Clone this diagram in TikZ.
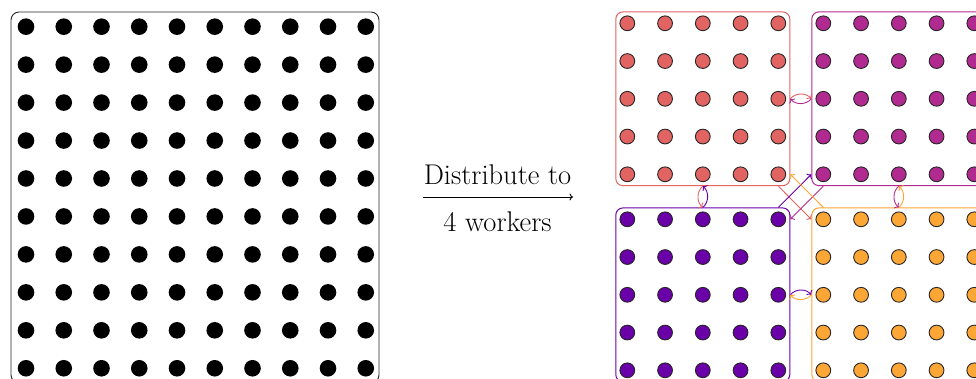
\documentclass[tikz,border=0pt]{standalone}
\usetikzlibrary{arrows.meta}
\definecolor{pred}{HTML}{E16462}
\definecolor{pmag}{HTML}{B12A90}
\definecolor{ppur}{HTML}{6A00A8}
\definecolor{pora}{HTML}{FCA636}
\begin{document}
\begin{tikzpicture}[x=1pt,y=-1pt,
  bdot/.style={circle,fill=black,inner sep=0pt,minimum size=16.6pt},
  cdot/.style={circle,draw=black!85,line width=0.9pt,fill=#1,inner sep=0pt,minimum size=14.8pt},
  block/.style={draw=#1,line width=1pt,rounded corners=7pt,inner sep=0pt,minimum width=174pt,minimum height=173.7pt},
  comm/.style={draw=#1,line width=0.9pt,-{To[length=3.5pt,width=7.5pt]}},
  lbl/.style={anchor=base,inner sep=0pt,font=\fontsize{28.5}{34}\selectfont},
]
\useasboundingbox (0,0) rectangle (976,379);
% left: undistributed grid
\node[draw=black!85,line width=0.9pt,rounded corners=8pt,inner sep=0pt,minimum width=368pt,minimum height=371pt] (big) at (195,197.5) {};
\foreach \i in {1,...,10}
  \foreach \j in {1,...,10}
    \node[bdot] (L\i-\j) at ({26+(\i-1)*37.75},{26.7+(\j-1)*37.95}) {};
% arrow and label
\coordinate (a1) at (423,197);
\coordinate (a2) at (573,197);
\draw[line width=0.9pt,-{To[length=3.5pt,width=7pt]}] (a1) -- (a2);
\node[lbl] (t1) at (497.5,185) {Distribute to};
\node[lbl] (t2) at (497.5,231.7) {4 workers};
% right: four workers
\foreach \n/\c/\x/\y in {TL/pred/627.3/23.3, TR/pmag/823.3/23.3, BL/ppur/627.3/219.3, BR/pora/823.3/219.3} {
  \node[block=\c] (\n) at ({\x+75.5},{\y+75.5}) {};
  \foreach \i in {1,...,5}
    \foreach \j in {1,...,5}
      \node[cdot=\c] (\n\i\j) at ({\x+(\i-1)*37.75},{\y+(\j-1)*37.75}) {};
}
% halo exchange (neighbours)
\draw[comm=pred] (TL.east) to[bend left=50] (TR.west);
\draw[comm=pmag] (TR.west) to[bend left=50] (TL.east);
\draw[comm=ppur] (BL.east) to[bend left=50] (BR.west);
\draw[comm=pora] (BR.west) to[bend left=50] (BL.east);
\draw[comm=pred] (TL.south) to[bend right=50] (BL.north);
\draw[comm=ppur] (BL.north) to[bend right=50] (TL.south);
\draw[comm=pmag] (TR.south) to[bend right=50] (BR.north);
\draw[comm=pora] (BR.north) to[bend right=50] (TR.south);
% diagonal exchange
\draw[comm=pred] (TL55 |- TL.south) -- (BR.west |- BR11);
\draw[comm=pmag] (TR15 |- TR.south) -- (BL.east |- BL51);
\draw[comm=ppur] (BL51 |- BL.north) -- (TR.west |- TR15);
\draw[comm=pora] (BR11 |- BR.north) -- (TL.east |- TL55);
\end{tikzpicture}
\end{document}
